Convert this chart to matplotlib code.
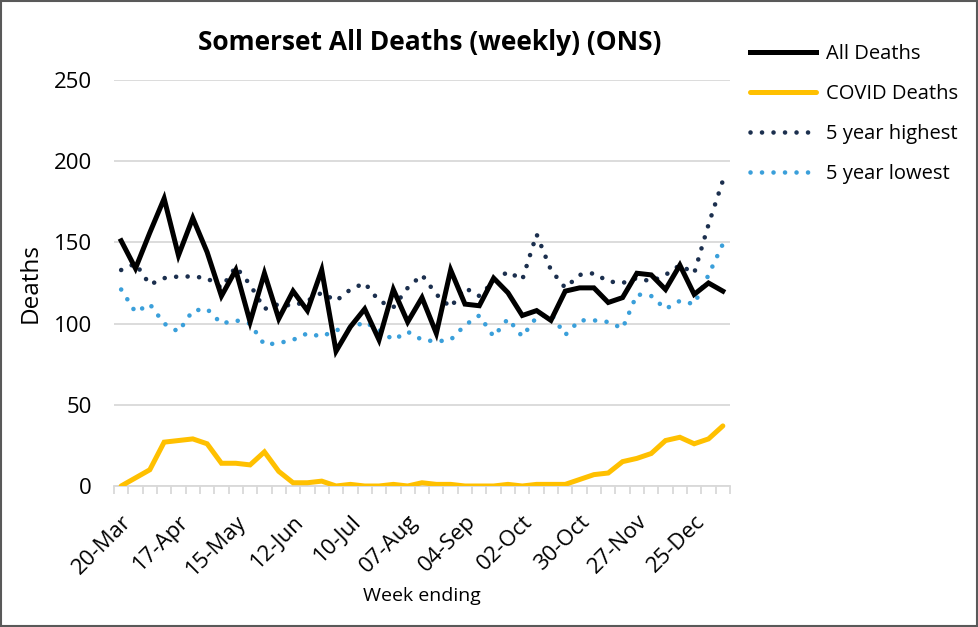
import matplotlib
matplotlib.use("Agg")
import matplotlib.pyplot as plt
from matplotlib.patches import Rectangle

plt.rcParams['font.family'] = ['Open Sans', 'DejaVu Sans']

weeks = ['20-Mar', '27-Mar', '03-Apr', '10-Apr', '17-Apr', '24-Apr', '01-May', '08-May',
         '15-May', '22-May', '29-May', '05-Jun', '12-Jun', '19-Jun', '26-Jun', '03-Jul',
         '10-Jul', '17-Jul', '24-Jul', '31-Jul', '07-Aug', '14-Aug', '21-Aug', '28-Aug',
         '04-Sep', '11-Sep', '18-Sep', '25-Sep', '02-Oct', '09-Oct', '16-Oct', '23-Oct',
         '30-Oct', '06-Nov', '13-Nov', '20-Nov', '27-Nov', '04-Dec', '11-Dec', '18-Dec',
         '25-Dec', '01-Jan', '08-Jan']

all_deaths = [151, 134, 156, 177, 142, 165, 144, 117, 133, 101, 131, 103, 120, 108, 133, 83,
              98, 109, 90, 121, 101, 116, 94, 133, 112, 111, 128, 119, 105, 108, 102, 120,
              122, 122, 113, 116, 131, 130, 121, 136, 118, 125, 120]

covid_deaths = [0, 5, 10, 27, 28, 29, 26, 14, 14, 13, 21, 9, 2, 2, 3, 0, 1, 0, 0, 1, 0, 2,
                1, 1, 0, 0, 0, 1, 0, 1, 1, 1, 4, 7, 8, 15, 17, 20, 28, 30, 26, 29, 37]

five_year_high = [133, 137, 124, 128, 129, 129, 128, 122, 135, 124, 109, 112, 111, 114, 119,
                  114, 121, 125, 114, 110, 122, 130, 118, 110, 122, 117, 126, 132, 127, 155,
                  133, 122, 130, 131, 126, 125, 128, 126, 130, 136, 131, 161, 188]

five_year_low = [121, 107, 112, 100, 95, 108, 109, 100, 102, 100, 87, 88, 90, 94, 92, 96, 97,
                 101, 96, 90, 95, 90, 89, 90, 99, 105, 92, 103, 92, 104, 106, 93, 102, 102,
                 101, 97, 118, 117, 109, 114, 112, 130, 149]

y_ticks = [0, 50, 100, 150, 200, 250]

W, H = 979, 627
fig = plt.figure(figsize=(W / 100, H / 100), dpi=100)
ax = fig.add_axes([114 / W, 1 - 486 / H, (730 - 114) / W, (486 - 80) / H])

x = list(range(len(weeks)))

dot_style = (0, (0.01, 2.5))
l_high, = ax.plot(x, five_year_high, color='#1B2F4E', lw=3.3, linestyle=dot_style,
                  dash_capstyle='round', label='5 year highest', zorder=2)
l_low, = ax.plot(x, five_year_low, color='#3A9FDA', lw=3.3, linestyle=dot_style,
                 dash_capstyle='round', label='5 year lowest', zorder=2)
l_covid, = ax.plot(x, covid_deaths, color='#FFC000', lw=3.6, label='COVID Deaths',
                   solid_capstyle='round', solid_joinstyle='miter', zorder=3)
l_all, = ax.plot(x, all_deaths, color='black', lw=3.6, label='All Deaths',
                 solid_joinstyle='miter', zorder=4)

ax.set_xlim(-0.5, len(weeks) - 0.5)
ax.set_ylim(0, 250)
ax.set_yticks(y_ticks)
ax.set_yticklabels([str(v) for v in y_ticks], fontsize=16)
ax.yaxis.grid(True, color='#D9D9D9', lw=1.3)
ax.set_axisbelow(True)
ax.tick_params(axis='y', length=0, pad=16)

major = x[::4]
ax.set_xticks(major)
ax.set_xticklabels([weeks[i] for i in major], rotation=45, ha='right',
                   rotation_mode='anchor', fontsize=16)
ax.set_xticks([i - 0.5 for i in range(len(weeks) + 1)], minor=True)
ax.tick_params(axis='x', which='major', length=0, pad=18)
ax.tick_params(axis='x', which='minor', length=6, width=1.3, color='#D9D9D9',
               direction='out')

for s in ['top', 'right', 'left']:
    ax.spines[s].set_visible(False)
ax.spines['bottom'].set_color('#D9D9D9')
ax.spines['bottom'].set_linewidth(1.3)

fig.text(31 / W, 1 - 283 / H, 'Deaths', rotation=90, ha='center', va='center',
         fontsize=17.5)
fig.text(422 / W, 1 - 596 / H, 'Week ending', ha='center', va='center', fontsize=14)
fig.text(430 / W, 1 - 42 / H, 'Somerset All Deaths (weekly) (ONS)', ha='center',
         va='center', fontsize=19, fontweight='bold')

leg = fig.legend(handles=[l_all, l_covid, l_high, l_low], loc='upper left',
                 bbox_to_anchor=(750 / W, 1 - 44 / H), frameon=False, fontsize=14.5,
                 handlelength=3.3, handletextpad=0.45, labelspacing=1.0,
                 borderaxespad=0, borderpad=0)

fig.patches.append(Rectangle((0.001, 0.002), 0.997, 0.996, transform=fig.transFigure,
                             fill=False, edgecolor='#595959', lw=1.5))

fig.savefig('out.png', dpi=100)
